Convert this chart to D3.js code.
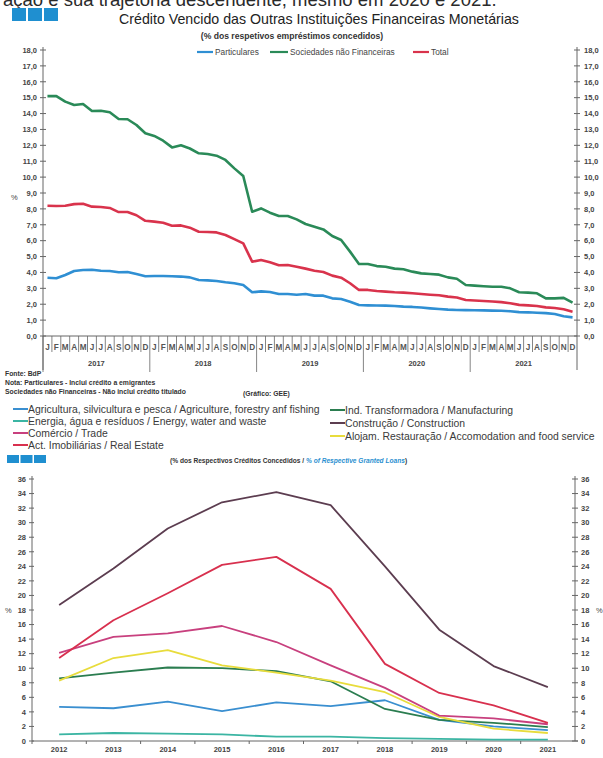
<!DOCTYPE html>
<html><head><meta charset="utf-8">
<script src="https://cdn.jsdelivr.net/npm/d3@7"></script>
<style>
html,body{margin:0;padding:0;background:#fff;}
svg{display:block;font-family:"Liberation Sans",Arial,sans-serif;}
</style></head>
<body>
<svg id="c" width="603" height="758"></svg>
<script>
// ---------- DATA ----------
const monthLetters = ["J","F","M","A","M","J","J","A","S","O","N","D"];
const topYears = [2017, 2018, 2019, 2020, 2021];
const topTicks = [0,1,2,3,4,5,6,7,8,9,10,11,12,13,14,15,16,17,18];
const particulares = [
  3.67,3.63,3.84,4.09,4.15,4.17,4.11,4.09,4.01,4.03,3.90,3.76,
  3.78,3.78,3.76,3.74,3.69,3.52,3.50,3.46,3.38,3.32,3.21,2.75,
  2.81,2.77,2.64,2.64,2.60,2.64,2.54,2.54,2.37,2.33,2.16,1.95,
  1.93,1.92,1.91,1.89,1.85,1.83,1.79,1.74,1.70,1.66,1.64,1.63,
  1.62,1.61,1.60,1.59,1.56,1.50,1.49,1.46,1.44,1.38,1.24,1.17];
const sociedades = [
  15.10,15.10,14.75,14.54,14.60,14.16,14.18,14.08,13.66,13.64,13.28,12.76,
  12.59,12.29,11.87,12.00,11.80,11.50,11.45,11.35,11.08,10.55,10.07,7.82,
  8.03,7.76,7.55,7.55,7.34,7.05,6.88,6.71,6.29,6.04,5.31,4.53,
  4.53,4.40,4.36,4.24,4.20,4.05,3.94,3.90,3.86,3.69,3.60,3.21,
  3.17,3.13,3.10,3.10,3.00,2.75,2.73,2.69,2.37,2.37,2.40,2.10];
const total = [
  8.20,8.18,8.20,8.30,8.32,8.14,8.12,8.06,7.80,7.80,7.60,7.25,
  7.20,7.13,6.94,6.96,6.82,6.56,6.55,6.52,6.36,6.10,5.83,4.68,
  4.78,4.64,4.45,4.47,4.36,4.24,4.11,4.03,3.80,3.67,3.32,2.90,
  2.90,2.83,2.79,2.75,2.73,2.69,2.64,2.60,2.56,2.48,2.42,2.27,
  2.23,2.20,2.17,2.13,2.06,1.96,1.93,1.89,1.80,1.76,1.68,1.53];
const topSeriesNames = ["Particulares","Sociedades não Financeiras","Total"];

const sectorYears = [2012,2013,2014,2015,2016,2017,2018,2019,2020,2021];
const bottomTicks = [0,2,4,6,8,10,12,14,16,18,20,22,24,26,28,30,32,34,36];
const agricultura   = [4.7,4.5,5.4,4.1,5.3,4.8,5.6,2.9,2.0,1.5];
const energia       = [0.9,1.1,1.0,0.9,0.6,0.6,0.4,0.3,0.2,0.2];
const comercio      = [12.1,14.3,14.8,15.8,13.6,10.4,7.3,3.5,3.1,2.3];
const imobiliarias  = [11.4,16.6,20.3,24.2,25.3,20.9,10.6,6.6,4.9,2.5];
const transformadora= [8.6,9.4,10.1,10.0,9.6,8.2,4.4,2.9,2.5,1.9];
const construcao    = [18.7,23.7,29.2,32.8,34.2,32.4,24.0,15.3,10.3,7.4];
const alojamento    = [8.3,11.4,12.5,10.4,9.4,8.3,6.7,3.3,1.7,1.1];
const sectorNames = [
  "Agricultura, silvicultura e pesca / Agriculture, forestry anf fishing",
  "Energia, água e resíduos / Energy, water and waste",
  "Comércio / Trade",
  "Act. Imobiliárias / Real Estate",
  "Ind. Transformadora / Manufacturing",
  "Construção / Construction",
  "Alojam. Restauração / Accomodation and food service"];

// ---------- DRAW ----------
const svg = d3.select("#c");
const axisCol = "#666";

// text cut at the very top (as in the scanned page)
svg.append("text").attr("x",3).attr("y",6).attr("font-size",18.5).attr("fill","#2a2a2a")
  .text("ação e sua trajetória descendente, mesmo em 2020 e 2021.");

function squares(x,y,w,h,g){
  for(let i=0;i<3;i++) svg.append("rect").attr("x",x+i*(w+g)).attr("y",y).attr("width",w).attr("height",h).attr("fill","#1f8fd0");
}
squares(12,8,14,13,2);

svg.append("text").attr("x",319).attr("y",24).attr("text-anchor","middle").attr("font-size",14.2).attr("fill","#222")
  .text("Crédito Vencido das Outras Instituições Financeiras Monetárias");
svg.append("text").attr("x",292).attr("y",39).attr("text-anchor","middle").attr("font-size",8.6).attr("font-weight","bold").attr("fill","#333")
  .text("(% dos respetivos empréstimos concedidos)");

// ---- top chart ----
const months = d3.range(particulares.length);
const xT = d3.scaleBand().domain(months).range([43,577]);
const yT = d3.scaleLinear().domain([0,18]).range([336,50]);
const topColors = ["#2f8fd3","#2a8a58","#d9334c"];
const topData = [particulares, sociedades, total];

const gT = svg.append("g");
gT.append("line").attr("x1",43).attr("x2",43).attr("y1",yT(18)-3).attr("y2",370).attr("stroke",axisCol);
gT.append("line").attr("x1",577).attr("x2",577).attr("y1",yT(18)-3).attr("y2",370).attr("stroke",axisCol);
gT.append("line").attr("x1",43).attr("x2",577).attr("y1",336).attr("y2",336).attr("stroke",axisCol);
const fmt = v => d3.format(".1f")(v).replace(".",",");
topTicks.forEach(t=>{
  gT.append("line").attr("x1",40).attr("x2",46).attr("y1",yT(t)).attr("y2",yT(t)).attr("stroke",axisCol);
  gT.append("line").attr("x1",574).attr("x2",580).attr("y1",yT(t)).attr("y2",yT(t)).attr("stroke",axisCol);
  gT.append("text").attr("x",37).attr("y",yT(t)+2.8).attr("text-anchor","end").attr("font-size",7.5).attr("font-weight","bold").attr("fill","#444").text(fmt(t));
  gT.append("text").attr("x",584).attr("y",yT(t)+2.8).attr("font-size",7.5).attr("font-weight","bold").attr("fill","#444").text(fmt(t));
});
gT.append("text").attr("x",11).attr("y",200).attr("font-size",7.5).attr("fill","#444").text("%");
months.forEach(i=>{
  const x0 = xT(i);
  gT.append("line").attr("x1",x0).attr("x2",x0).attr("y1",336).attr("y2", i%12===0 ? 372 : 352).attr("stroke",axisCol).attr("stroke-width",0.8);
  gT.append("text").attr("x",x0+xT.bandwidth()/2).attr("y",350).attr("text-anchor","middle").attr("font-size",8.2).attr("font-weight","bold").attr("fill","#555").text(monthLetters[i%12]);
});
topYears.forEach((yr,k)=>{
  const xm = (xT(k*12)+xT(k*12+11)+xT.bandwidth())/2;
  gT.append("text").attr("x",xm).attr("y",366).attr("text-anchor","middle").attr("font-size",7.5).attr("font-weight","bold").attr("fill","#444").text(yr);
});
const lineT = d3.line().x((d,i)=>xT(i)+xT.bandwidth()/2).y(d=>yT(d));
topData.forEach((arr,k)=>{
  gT.append("path").attr("d",lineT(arr)).attr("fill","none").attr("stroke",topColors[k]).attr("stroke-width",2.6).attr("stroke-linejoin","round");
});
const legX = [[197,215],[270,290],[413,431]];
topSeriesNames.forEach((n,k)=>{
  gT.append("line").attr("x1",legX[k][0]).attr("x2",legX[k][1]-2).attr("y1",52).attr("y2",52).attr("stroke",topColors[k]).attr("stroke-width",2.2);
  gT.append("text").attr("x",legX[k][1]).attr("y",55).attr("font-size",8.3).attr("fill","#444").text(n);
});

// footnotes
const fn = [["Fonte: BdP",5,376],["Nota: Particulares - Inclui crédito a emigrantes",5,385],["Sociedades não Financeiras - Não inclui crédito titulado",5,394],["(Gráfico: GEE)",243,396]];
fn.forEach(f=>svg.append("text").attr("x",f[1]).attr("y",f[2]).attr("font-size",6.8).attr("font-weight","bold").attr("fill","#333").text(f[0]));

// ---- bottom legend ----
const sectorColors = ["#3a8fd0","#3bb5a3","#c8407e","#d8304e","#2b7d50","#5c3d50","#e8dc3c"];
const legPos = [[13,409],[13,421],[13,433],[13,445],[330,410],[330,423],[330,436]];
sectorNames.forEach((n,k)=>{
  const [lx,ly] = legPos[k];
  svg.append("line").attr("x1",lx).attr("x2",lx+15).attr("y1",ly).attr("y2",ly).attr("stroke",sectorColors[k]).attr("stroke-width",2);
  svg.append("text").attr("x",lx+15).attr("y",ly+3.6).attr("font-size",10.4).attr("fill","#3a3a3a").text(n);
});
squares(7,455,12,8,1.5);
const sub = svg.append("text").attr("x",170).attr("y",463).attr("font-size",6.6).attr("font-weight","bold").attr("fill","#333");
sub.append("tspan").text("(% dos Respectivos  Créditos Concedidos / ");
sub.append("tspan").attr("fill","#2a8fd0").attr("font-style","italic").text("% of Respective  Granted Loans");
sub.append("tspan").text(")");

// ---- bottom chart ----
const xB = d3.scalePoint().domain(sectorYears).range([32,575]).padding(0.5);
const yB = d3.scaleLinear().domain([0,36]).range([741,479]);
const gB = svg.append("g");
gB.append("line").attr("x1",32).attr("x2",32).attr("y1",yB(36)-3).attr("y2",741).attr("stroke",axisCol);
gB.append("line").attr("x1",575).attr("x2",575).attr("y1",yB(36)-3).attr("y2",741).attr("stroke",axisCol);
gB.append("line").attr("x1",32).attr("x2",578).attr("y1",741).attr("y2",741).attr("stroke",axisCol);
bottomTicks.forEach(t=>{
  gB.append("line").attr("x1",29).attr("x2",34).attr("y1",yB(t)).attr("y2",yB(t)).attr("stroke",axisCol);
  gB.append("line").attr("x1",572).attr("x2",578).attr("y1",yB(t)).attr("y2",yB(t)).attr("stroke",axisCol);
  gB.append("text").attr("x",26).attr("y",yB(t)+2.8).attr("text-anchor","end").attr("font-size",7.5).attr("font-weight","bold").attr("fill","#444").text(t);
  gB.append("text").attr("x",581).attr("y",yB(t)+2.8).attr("font-size",7.5).attr("font-weight","bold").attr("fill","#444").text(t);
});
gB.append("text").attr("x",5).attr("y",yB(18)+2.8).attr("font-size",7.5).attr("fill","#444").text("%");
gB.append("text").attr("x",596).attr("y",yB(18)+2.8).attr("font-size",7.5).attr("fill","#444").text("%");
const step = xB.step();
sectorYears.forEach(yr=>{
  const x = xB(yr);
  gB.append("line").attr("x1",x-step/2).attr("x2",x-step/2).attr("y1",741).attr("y2",744).attr("stroke",axisCol);
  gB.append("text").attr("x",x).attr("y",752).attr("text-anchor","middle").attr("font-size",7.5).attr("font-weight","bold").attr("fill","#444").text(yr);
});
const sectorData = [agricultura, energia, comercio, imobiliarias, transformadora, construcao, alojamento];
const drawOrder = [1,0,4,6,2,3,5];
const lineB = d3.line().x((d,i)=>xB(sectorYears[i])).y(d=>yB(d));
drawOrder.forEach(k=>{
  gB.append("path").attr("d",lineB(sectorData[k])).attr("fill","none").attr("stroke",sectorColors[k]).attr("stroke-width",1.8).attr("stroke-linejoin","round");
});
</script>
</body></html>
